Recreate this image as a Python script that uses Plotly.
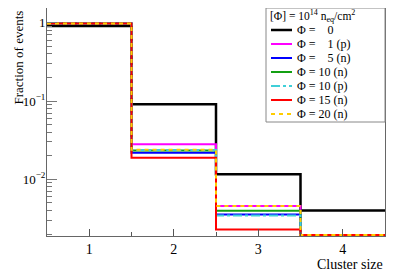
import plotly.graph_objects as go

# Bin edges for cluster size histogram
bin_edges = [0.5, 1.5, 2.5, 3.5, 4.5]
cluster_sizes = [1, 2, 3, 4]

# Fraction of events per cluster size (0 = empty bin)
phi_0 = [0.91, 0.091, 0.0116, 0.0040]
phi_1p = [0.98, 0.028, 0.00456, 0.0]
phi_5n = [0.98, 0.0219, 0.00356, 0.0]
phi_10n = [0.98, 0.0234, 0.00397, 0.0]
phi_10p = [0.98, 0.0236, 0.00346, 0.0]
phi_15n = [0.98, 0.0189, 0.00229, 0.0]
phi_20n = [0.98, 0.0238, 0.00456, 0.0]

legend_title = "[Φ] = 10<sup>14</sup> n<sub>eq</sub>/cm<sup>2</sup>"
labels = ["Φ =\u00a0\u00a0\u00a0 0", "Φ =\u00a0\u00a0\u00a0 1 (p)", "Φ =\u00a0\u00a0\u00a0 5 (n)",
          "Φ = 10 (n)", "Φ = 10 (p)", "Φ = 15 (n)", "Φ = 20 (n)"]
series = [phi_0, phi_1p, phi_5n, phi_10n, phi_10p, phi_15n, phi_20n]
colors = ["#000000", "#ff00ff", "#0000ff", "#13a013", "#3fcfd8", "#ff0000", "#ffcc00"]
dashes = ["solid", "solid", "solid", "solid", "dashdot", "solid", "4px,4px"]
widths = [2.5, 2, 2, 2, 2, 2, 2]

y_lo, y_hi = -2.724, 0.188
y_floor = 10 ** (y_lo + 0.012)

# page body has an 8px margin: figure origin sits at (8, 8) in the window
OFF = 8
W, H = 390, 263
ML, MR, MT, MB = 39, 13, 0, 35
PW, PH = W - ML - MR, H - MT - MB


def px(x):
    return (x - OFF - ML) / PW


def py(y):
    return (H - MB - (y - OFF)) / PH


font = "Liberation Serif"

fig = go.Figure()
for lab, vals, c, d, w in zip(labels, series, colors, dashes, widths):
    yv = [v if v > 0 else y_floor for v in vals]
    fig.add_trace(go.Scatter(
        x=bin_edges, y=yv + [yv[-1]], mode="lines", line_shape="hv",
        line=dict(color=c, dash=d, width=w), name=lab, showlegend=False))

# Legend box (drawn manually to match compact ROOT legend)
shapes = [dict(type="rect", xref="paper", yref="paper",
               x0=px(266), x1=px(385), y0=py(122), y1=py(8),
               line=dict(color="#888", width=1), fillcolor="white", layer="above")]
annotations = [dict(text=legend_title, xref="paper", yref="paper",
                    x=px(268), y=py(16.5), xanchor="left", yanchor="middle",
                    showarrow=False, font=dict(family=font, size=11.5))]
for i, (lab, c, d, w) in enumerate(zip(labels, colors, dashes, widths)):
    yc = 30 + i * 14.0
    shapes.append(dict(type="line", xref="paper", yref="paper",
                       x0=px(271), x1=px(292), y0=py(yc), y1=py(yc),
                       line=dict(color=c, dash=d, width=w), layer="above"))
    annotations.append(dict(text=lab, xref="paper", yref="paper",
                            x=px(295), y=py(yc), xanchor="left", yanchor="middle",
                            showarrow=False, font=dict(family=font, size=12)))

annotations += [
    dict(text="Fraction of events", xref="paper", yref="paper", x=px(8), y=py(9),
         xanchor="left", yanchor="top", textangle=-90, showarrow=False,
         font=dict(family=font, size=13)),
    dict(text="Cluster size", xref="paper", yref="paper", x=1, y=py(255),
         xanchor="right", yanchor="top", showarrow=False,
         font=dict(family=font, size=14)),
]

minor_y = [m * 10 ** e for e in (-3, -2, -1) for m in range(2, 10)]
minor_y = [v for v in minor_y if v > 10 ** y_lo]

fig.update_layout(
    width=W, height=H,
    margin=dict(l=ML, r=MR, t=MT, b=MB),
    paper_bgcolor="white", plot_bgcolor="white",
    font=dict(family=font, size=14, color="black"),
    showlegend=False,
    xaxis=dict(
        range=[0.5, 4.5], tickvals=cluster_sizes, ticks="inside", ticklen=7,
        tickcolor="#555", showgrid=False, zeroline=False,
        showline=True, linecolor="#666", linewidth=1, mirror=True,
        minor=dict(tickvals=[1.5, 2.5, 3.5], ticks="inside", ticklen=4, tickcolor="#555"),
        tickfont=dict(family=font, size=14),
    ),
    yaxis=dict(
        type="log", range=[y_lo, y_hi],
        tickvals=[0.01, 0.1, 1], ticktext=["10<sup>−2</sup>", "10<sup>−1</sup>", "1"],
        ticks="inside", ticklen=10, tickcolor="#777", ticklabelstandoff=-2,
        showgrid=False, zeroline=False,
        showline=True, linecolor="#666", linewidth=1, mirror=True,
        minor=dict(tickvals=minor_y, ticks="inside", ticklen=5, tickcolor="#777"),
        tickfont=dict(family=font, size=13),
    ),
    shapes=shapes,
    annotations=annotations,
)

fig.write_html("out.html")
